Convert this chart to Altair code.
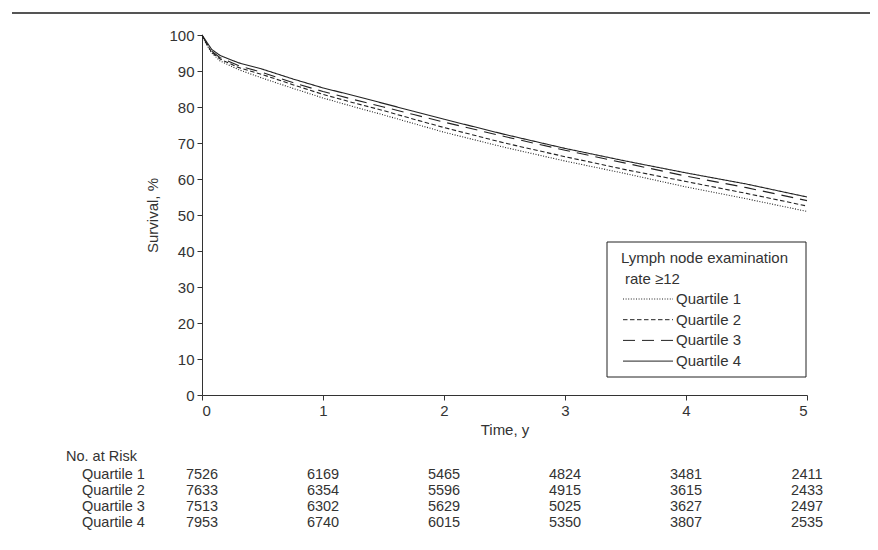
import altair as alt
import pandas as pd

# ---- data ----
times = [0, 0.03, 0.08, 0.15, 0.3, 0.5, 0.75, 1, 1.25, 1.5, 1.75, 2, 2.5, 3, 3.5, 4, 4.5, 5]
q1 = [100, 97.8, 95.0, 92.8, 90.4, 88.0, 85.2, 82.5, 80.1, 77.8, 75.4, 73.0, 68.8, 65.0, 61.5, 57.8, 54.5, 51.0]
q2 = [100, 98.0, 95.2, 93.3, 91.0, 89.0, 86.2, 83.5, 81.2, 79.0, 76.6, 74.3, 70.0, 66.2, 62.6, 59.3, 56.0, 52.5]
q3 = [100, 98.2, 95.5, 93.7, 91.5, 89.6, 86.8, 84.3, 82.1, 80.0, 77.9, 75.8, 71.8, 68.0, 64.4, 60.8, 57.6, 54.0]
q4 = [100, 98.5, 96.0, 94.3, 92.3, 90.5, 87.8, 85.3, 83.2, 81.0, 78.8, 76.6, 72.4, 68.5, 65.0, 61.7, 58.6, 55.0]
quartiles = ["Quartile 1", "Quartile 2", "Quartile 3", "Quartile 4"]
legend_labels = ["Quartile 1", "Quartile 2", "Quartile 3", "Quartile 4"]
risk_times = [0, 1, 2, 3, 4, 5]
risk_q1 = [7526, 6169, 5465, 4824, 3481, 2411]
risk_q2 = [7633, 6354, 5596, 4915, 3615, 2433]
risk_q3 = [7513, 6302, 5629, 5025, 3627, 2497]
risk_q4 = [7953, 6740, 6015, 5350, 3807, 2535]
legend_title = ["Lymph node examination", "rate \u226512"]

FONT = "Liberation Sans"
INK = "#333333"
dashes = [[1, 1.6], [4.5, 2.5], [12, 7], [1, 0]]

series = [q1, q2, q3, q4]
rows = []
for q, vals in zip(quartiles, series):
    for t, v in zip(times, vals):
        rows.append({"time": t, "surv": v, "group": q})
curves_df = pd.DataFrame(rows)

xscale = alt.Scale(domain=[0, 5], nice=False)
yscale = alt.Scale(domain=[0, 100], nice=False)

curves = alt.Chart(curves_df).mark_line(strokeWidth=1.1, color="#222222").encode(
    x=alt.X("time:Q", scale=xscale,
            axis=alt.Axis(values=[0, 1, 2, 3, 4, 5], format="d", title="Time, y", titlePadding=4)),
    y=alt.Y("surv:Q", scale=yscale,
            axis=alt.Axis(values=list(range(0, 101, 10)), format="d", title="Survival, %", titlePadding=8)),
    strokeDash=alt.StrokeDash("group:N", scale=alt.Scale(domain=quartiles, range=dashes), legend=None),
    detail="group:N",
)

# ---- legend box (custom) ----
box = alt.Chart(pd.DataFrame({"a": [0]})).mark_rect(
    fill="white", stroke="#222222", strokeWidth=1
).encode(x=alt.value(405), x2=alt.value(604), y=alt.value(207), y2=alt.value(342))

title_layers = []
for i, txt in enumerate(legend_title):
    title_layers.append(
        alt.Chart(pd.DataFrame({"txt": [txt]})).mark_text(
            align="left", baseline="middle", font=FONT, fontSize=15, color=INK
        ).encode(text="txt:N", x=alt.value(419 + 4 * i), y=alt.value(223 + 21 * i))
    )
leg_lines = []
for i, (lab, d) in enumerate(zip(legend_labels, dashes)):
    yy = 264 + 20.7 * i
    leg_lines.append(
        alt.Chart(pd.DataFrame({"a": [0]})).mark_rule(
            strokeDash=d, strokeWidth=1, color="#222222"
        ).encode(x=alt.value(421), x2=alt.value(471), y=alt.value(yy))
    )
    leg_lines.append(
        alt.Chart(pd.DataFrame({"txt": [lab]})).mark_text(
            align="left", baseline="middle", font=FONT, fontSize=15, color=INK
        ).encode(text="txt:N", x=alt.value(474), y=alt.value(yy))
    )

# ---- risk table ----
risk_rows = []
for r, (q, vals) in enumerate(zip(quartiles, [risk_q1, risk_q2, risk_q3, risk_q4])):
    for t, n in zip(risk_times, vals):
        risk_rows.append({"time": t, "n": str(n), "group": q, "row": r})
risk_df = pd.DataFrame(risk_rows)

risk_layers = []
for r, q in enumerate(quartiles):
    yy = 439.5 + 16.2 * r
    sub = risk_df[risk_df["group"] == q]
    risk_layers.append(
        alt.Chart(sub).mark_text(
            align="center", baseline="middle", font=FONT, fontSize=14.5, color=INK
        ).encode(x=alt.X("time:Q", scale=xscale), text="n:N", y=alt.value(yy))
    )
    risk_layers.append(
        alt.Chart(pd.DataFrame({"txt": [q]})).mark_text(
            align="left", baseline="middle", font=FONT, fontSize=14.5, color=INK
        ).encode(text="txt:N", x=alt.value(-120), y=alt.value(yy))
    )
risk_layers.append(
    alt.Chart(pd.DataFrame({"txt": ["No. at Risk"]})).mark_text(
        align="left", baseline="middle", font=FONT, fontSize=14.5, color=INK
    ).encode(text="txt:N", x=alt.value(-136), y=alt.value(422))
)

top_rule = alt.Chart(pd.DataFrame({"a": [0]})).mark_rule(
    color="#555555", strokeWidth=2
).encode(x=alt.value(-190), x2=alt.value(670), y=alt.value(-22))

chart = alt.layer(
    curves, box, *title_layers, *leg_lines, *risk_layers, top_rule
).properties(
    width=605, height=360,
    autosize=alt.AutoSizeParams(type="none"),
    padding={"left": 194, "top": 27, "right": 63, "bottom": 147},
).configure_view(stroke=None).configure_axis(
    grid=False, domainColor=INK, tickColor=INK, labelColor=INK, titleColor=INK,
    labelFont=FONT, titleFont=FONT, labelFontSize=15, titleFontSize=15,
    titleFontWeight="normal", tickSize=5, labelPadding=3, domainWidth=1, tickWidth=1,
)

chart.save("out.html", embed_options={"renderer": "svg", "actions": False})
